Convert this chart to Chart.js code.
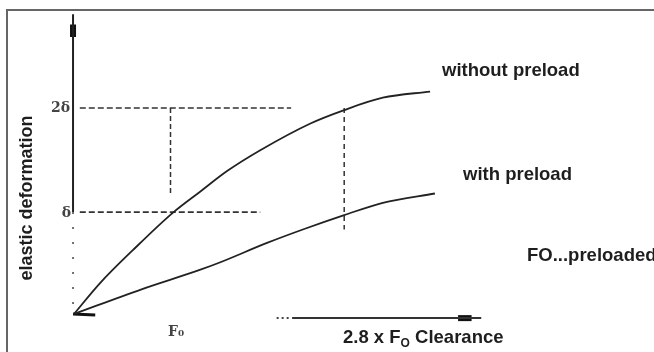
<!DOCTYPE html>
<html>
<head>
<meta charset="utf-8">
<script src="https://cdn.jsdelivr.net/npm/chart.js@4"></script>
<style>
  html, body { margin: 0; padding: 0; background: #fff; }
  #box { width: 654px; height: 352px; position: relative; }
</style>
</head>
<body>
<div id="box"><canvas id="myChart"></canvas></div>
<script>
// load in units of F0, deformation in units of delta
var withoutX = [0, 0.27, 0.61, 1.02, 1.31, 1.59, 1.93, 2.45, 2.80, 3.20, 3.69];
var withoutY = [0, 0.30, 0.62, 0.98, 1.19, 1.39, 1.59, 1.85, 1.98, 2.10, 2.16];
var withX = [0, 0.70, 1.31, 1.51, 2.00, 2.40, 2.80, 3.20, 3.74];
var withY = [0, 0.24, 0.43, 0.50, 0.69, 0.83, 0.96, 1.08, 1.17];

var tickLabels = ["2δ", "δ", "F₀"];
var curveLabels = ["without preload", "with preload", "FO...preloaded"];
var yTitle = "elastic deformation";

function pts(xs, ys){
    var out = [];
    for (var i = 0; i < xs.length; i++) out.push({x: xs[i], y: ys[i]});
    return out;
}

function seg(x1, y1, x2, y2, w, dash, col){
    return {
        data: [{x: x1, y: y1}, {x: x2, y: y2}],
        showLine: true, pointRadius: 0, borderWidth: w,
        borderColor: col || "#333", borderDash: dash || [], fill: false
    };
}

var textPlugin = {
    id: "texts",
    afterDraw: function(chart){
        var ctx = chart.ctx;
        ctx.save();
        // frame (top + left only)
        ctx.strokeStyle = "#666";
        ctx.lineWidth = 2;
        ctx.beginPath();
        ctx.moveTo(654, 10); ctx.lineTo(7, 10); ctx.lineTo(7, 352);
        ctx.stroke();

        ctx.fillStyle = "#1e1e1e";
        ctx.font = "bold 18.5px 'Liberation Sans', Arial, sans-serif";
        ctx.textBaseline = "alphabetic";
        ctx.textAlign = "left";
        ctx.fillText(curveLabels[0], 442, 76);
        ctx.fillText(curveLabels[1], 463, 180);
        ctx.fillText(curveLabels[2], 527, 261);

        var x = 343;
        ctx.fillText("2.8 x F", x, 343);
        x += ctx.measureText("2.8 x F").width;
        ctx.font = "bold 12px 'Liberation Sans', Arial, sans-serif";
        ctx.fillText("O", x, 347);
        x += ctx.measureText("O").width;
        ctx.font = "bold 18.5px 'Liberation Sans', Arial, sans-serif";
        ctx.fillText(" Clearance", x, 343);

        ctx.save();
        ctx.translate(32, 198);
        ctx.rotate(-Math.PI / 2);
        ctx.textAlign = "center";
        ctx.font = "bold 18px 'Liberation Sans', Arial, sans-serif";
        ctx.fillText(yTitle, 0, 0);
        ctx.restore();

        // faded scanned tick labels
        ctx.fillStyle = "#444";
        ctx.font = "bold 14px 'DejaVu Serif', serif";
        ctx.textAlign = "right";
        ctx.textBaseline = "middle";
        ctx.fillText(tickLabels[0], 70, 108);
        ctx.fillText(tickLabels[1], 71, 213);
        ctx.textAlign = "center";
        ctx.fillText(tickLabels[2], 176, 332);
        ctx.restore();
    }
};

function showChart(){
    var curve = {
        showLine: true, pointRadius: 0, borderWidth: 1.8,
        borderColor: "#222", fill: false, cubicInterpolationMode: "monotone"
    };
    var datasets = [
        Object.assign({data: pts(withoutX, withoutY)}, curve),
        Object.assign({data: pts(withX, withY)}, curve),
        // guide lines at delta and 2 delta
        seg(0.06, 2.0, 2.25, 2.0, 1.7, [6, 3]),
        seg(0.06, 0.99, 1.93, 0.99, 1.7, [6, 3]),
        seg(1.0, 2.0, 1.0, 1.17, 1.5, [5, 3]),
        seg(2.8, 2.0, 2.8, 0.82, 1.5, [5, 4]),
        // y axis
        seg(-0.01, 2.91, -0.01, 0.99, 2, [], "#222"),
        seg(-0.01, 2.81, -0.01, 2.69, 6, [], "#111"),
        seg(-0.01, 0.99, -0.01, 0.05, 1.5, [2, 13], "#444"),
        seg(-0.01, 0, 0.22, -0.01, 3, [], "#111"),
        // x axis
        seg(2.10, -0.04, 2.25, -0.04, 2, [2, 3], "#444"),
        seg(2.26, -0.04, 4.22, -0.04, 2, [], "#333"),
        seg(3.98, -0.04, 4.12, -0.04, 6, [], "#111")
    ];

    new Chart("myChart", {
        type: "scatter",
        data: { datasets: datasets },
        options: {
          responsive: true,
          maintainAspectRatio: false,
          animation: false,
          layout: { padding: 0 },
          plugins: { legend: { display: false }, tooltip: { enabled: false } },
          scales: {
            x: { type: "linear", display: false, min: -74 / 96.5, max: 580 / 96.5 },
            y: { type: "linear", display: false, min: -38 / 103, max: 314 / 103 }
          }
        },
        plugins: [textPlugin]
      });
}

function loadItems(){
    showChart();
}

window.addEventListener("load", loadItems);
</script>
</body>
</html>
